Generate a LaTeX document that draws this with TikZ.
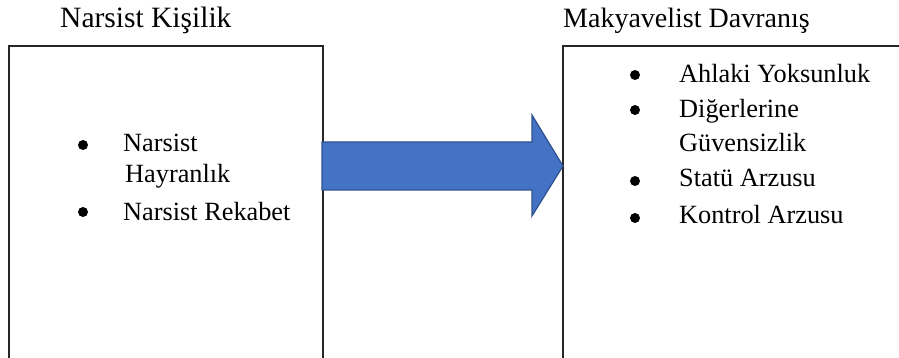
\documentclass[tikz,border=0pt]{standalone}
\usepackage{fontspec}
\setmainfont{Liberation Serif}
\definecolor{arrowfill}{HTML}{4472C4}
\definecolor{arrowline}{HTML}{2F528F}
\definecolor{boxline}{HTML}{262626}
\tikzset{
  boxframe/.style={draw=boxline, line width=1.3pt, fill=none},
  titletext/.style={anchor=base west, inner sep=0pt, font=\fontsize{28}{34}\selectfont},
  itemtext/.style={anchor=base west, inner sep=0pt, font=\fontsize{26.3}{31}\selectfont},
  dot/.style={fill=black},
  blockarrow/.style={fill=arrowfill, draw=arrowline, line width=1.2pt, line join=miter}
}
\begin{document}
\begin{tikzpicture}[x=1pt,y=-1pt]
\useasboundingbox (0,0) rectangle (899,358);
\clip (0,0) rectangle (899,358);
% titles
\node[titletext, font=\fontsize{29.5}{34}\selectfont] (t1) at (60,28) {Narsist Kişilik};
\node[titletext] (t2) at (563,28) {Makyavelist Davranış};
% boxes
\draw[boxframe] (9,46) rectangle (323,370);
\draw[boxframe] (563,46) rectangle (910,370);
% arrow
\coordinate (at) at (563,166);
\draw[blockarrow] (322,142) -- (532,142) -- (532,115) -- (at) -- (532,216) -- (532,190) -- (322,190) -- cycle;
% left list
\fill[dot] (83,145) circle (5pt);
\node[itemtext] (l1) at (123,152) {Narsist};
\node[itemtext] (l2) at (125,183) {Hayranlık};
\fill[dot] (83,212) circle (5pt);
\node[itemtext] (l3) at (123,220) {Narsist Rekabet};
% right list
\fill[dot] (635,75) circle (5pt);
\node[itemtext] (r1) at (679,83) {Ahlaki Yoksunluk};
\fill[dot] (635,110) circle (5pt);
\node[itemtext] (r2) at (679,118) {Diğerlerine};
\node[itemtext] (r3) at (679,152) {Güvensizlik};
\fill[dot] (635,181) circle (5pt);
\node[itemtext] (r4) at (679,187) {Statü Arzusu};
\fill[dot] (635,218) circle (5pt);
\node[itemtext] (r5) at (679,223) {Kontrol Arzusu};
\end{tikzpicture}
\end{document}
